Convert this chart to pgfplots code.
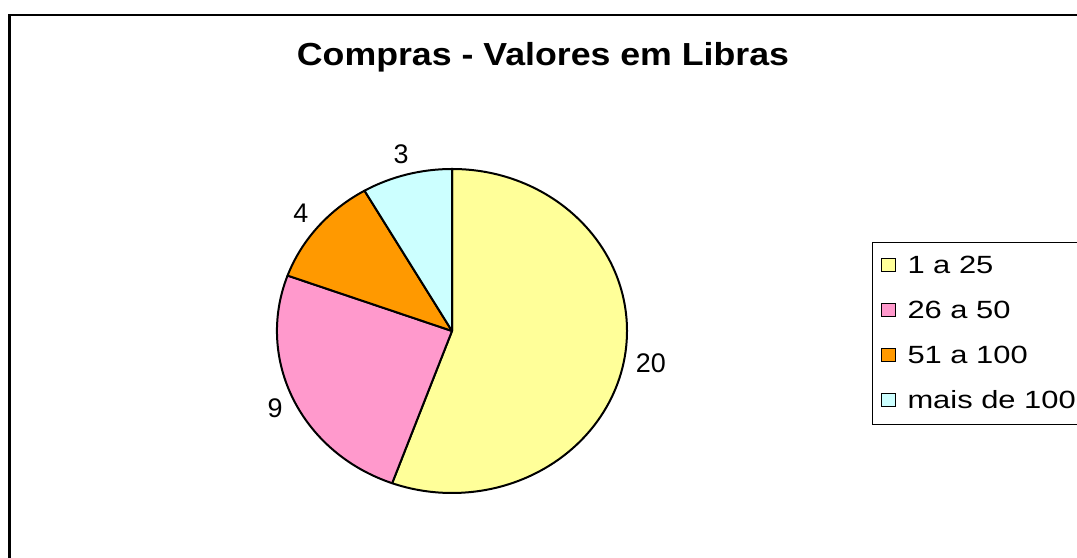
\documentclass[border=0pt]{standalone}
\usepackage{fontspec}
\setmainfont{Liberation Sans}
\newfontfamily\titlefont{Liberation Sans}[FakeStretch=1.12]
\newfontfamily\legendfont{Liberation Sans}[FakeStretch=1.24]
\usepackage{pgfplots}
\usepackage{pgfplotstable}
\pgfplotsset{compat=1.18}

\definecolor{pieyellow}{HTML}{FFFF99}
\definecolor{piepink}{HTML}{FF99CC}
\definecolor{pieorange}{HTML}{FF9900}
\definecolor{piecyan}{HTML}{CCFFFF}

% slices in drawing order (clockwise from 12 o'clock)
\pgfplotstableread[col sep=comma]{
label,value,color
1 a 25,20,pieyellow
26 a 50,9,piepink
51 a 100,4,pieorange
mais de 100,3,piecyan
}\piedata

\pgfplotstablegetrowsof{\piedata}
\pgfmathtruncatemacro\lastrow{\pgfplotsretval-1}
\gdef\pietotal{0}
\foreach \i in {0,...,\lastrow}{%
  \pgfplotstablegetelem{\i}{value}\of\piedata
  \pgfmathsetmacro\tmp{\pietotal+\pgfplotsretval}%
  \xdef\pietotal{\tmp}%
}
\gdef\piecur{90}
\foreach \i in {0,...,\lastrow}{%
  \pgfplotstablegetelem{\i}{value}\of\piedata
  \expandafter\xdef\csname pieval\i\endcsname{\pgfplotsretval}%
  \pgfmathsetmacro\tmpend{\piecur-360*\pgfplotsretval/\pietotal}%
  \pgfmathsetmacro\tmpmid{(\piecur+\tmpend)/2}%
  \pgfmathtruncatemacro\tmpanc{mod(\tmpmid+180+720,360)}%
  \expandafter\xdef\csname piestart\i\endcsname{\piecur}%
  \expandafter\xdef\csname pieend\i\endcsname{\tmpend}%
  \expandafter\xdef\csname piemid\i\endcsname{\tmpmid}%
  \expandafter\xdef\csname pieanc\i\endcsname{\tmpanc}%
  \xdef\piecur{\tmpend}%
  \pgfplotstablegetelem{\i}{label}\of\piedata
  \expandafter\xdef\csname pielab\i\endcsname{\pgfplotsretval}%
  \pgfplotstablegetelem{\i}{color}\of\piedata
  \xglobal\colorlet{piecol\i}{\pgfplotsretval}%
}

\begin{document}
\begin{tikzpicture}[x=1bp,y=1bp]
\path[use as bounding box] (0,0) rectangle (1077,558);
\clip (0,0) rectangle (1077,558);
\fill[white] (0,0) rectangle (1077,558);
\draw[line width=2.5bp] (9.5,-20) rectangle (1100,543);
\node[font=\titlefont\bfseries\fontsize{32}{38}\selectfont, anchor=base] at (543,492) {Compras - Valores em Libras};
\begin{axis}[
    at={(452bp,227bp)}, anchor=center,
    scale only axis, width=350bp, height=324bp,
    xmin=-1, xmax=1, ymin=-1, ymax=1,
    hide axis, clip=false,
    legend style={at={(1.7,0.775)}, anchor=north west, draw=black, line width=1bp,
      font=\legendfont\fontsize{25}{30}\selectfont,
      inner xsep=8bp, inner ysep=9bp, row sep=16bp, column sep=10bp,
      nodes={inner sep=2bp, text height=20bp, text depth=5bp}},
    legend cell align=left,
    legend image code/.code={\filldraw[#1, draw=black, line width=1bp] (0bp,-6bp) rectangle (14bp,7bp);},
  ]
  \pgfplotsinvokeforeach{0,...,\lastrow}{
    \filldraw[fill=piecol#1, draw=black, line width=2bp, line join=round]
      (axis cs:0,0) -- (axis cs:{cos(\csname piestart#1\endcsname)},{sin(\csname piestart#1\endcsname)})
      arc[start angle=\csname piestart#1\endcsname, end angle=\csname pieend#1\endcsname, x radius=175bp, y radius=162bp] -- cycle;
    \node[anchor=\csname pieanc#1\endcsname, inner sep=3pt, outer sep=0pt, font=\fontsize{27}{32}\selectfont]
      at (axis cs:{1.05*cos(\csname piemid#1\endcsname)},{1.05*sin(\csname piemid#1\endcsname)}) {\csname pieval#1\endcsname};
    \addlegendimage{fill=piecol#1}
    \addlegendentry{\makebox[175bp][l]{\csname pielab#1\endcsname}}
  }
\end{axis}
\end{tikzpicture}
\end{document}
